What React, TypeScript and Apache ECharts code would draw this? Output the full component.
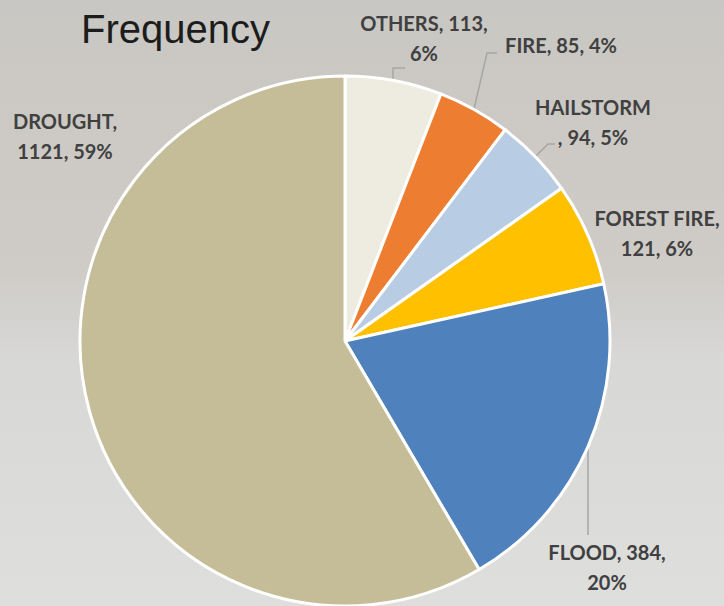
import React, { useEffect, useRef } from "react";
import * as echarts from "echarts";

const NAMES = ["OTHERS", "FIRE", "HAILSTORM", "FOREST FIRE", "FLOOD", "DROUGHT"];
const VALUES = [113, 85, 94, 121, 384, 1121];
const PERCENTS = [6, 4, 5, 6, 20, 59];
// where each label breaks into two lines
const BREAKS = ["value", "none", "name-", "name", "value", "name"];
const COLORS = ["#EEECE1", "#ED7D31", "#B8CCE4", "#FFC000", "#4F81BD", "#C4BD97"];
const SHOW_LINE = [true, true, true, false, true, false];
const LABEL_POS: [number, number][] = [
  [424, 38],
  [561, 45],
  [593, 122],
  [657, 233],
  [607, 567],
  [65, 136],
];
const LINE_POINTS: ([number, number][] | null)[] = [
  [[393, 80], [393, 68], [405, 68]],
  [[474, 109], [487, 53], [497, 53]],
  [[535, 157], [548, 144], [555, 144]],
  null,
  [[588, 448], [588, 492], [588, 535]],
  null,
];

function labelText(i: number): string {
  const n = NAMES[i];
  const v = VALUES[i];
  const p = PERCENTS[i] + "%";
  switch (BREAKS[i]) {
    case "value":
      return `${n}, ${v},\n${p}`;
    case "name-":
      return `${n}\n, ${v}, ${p}`;
    case "name":
      return `${n},\n${v}, ${p}`;
    default:
      return `${n}, ${v}, ${p}`;
  }
}

export default function App() {
  const ref = useRef<HTMLDivElement>(null);
  useEffect(() => {
    document.body.style.margin = "0";
    const chart = echarts.init(ref.current!, null, { renderer: "svg" });
    chart.setOption({
      animation: false,
      backgroundColor: {
        type: "linear",
        x: 0,
        y: 0,
        x2: 0,
        y2: 1,
        colorStops: [
          { offset: 0, color: "#c9c7c3" },
          { offset: 0.25, color: "#cdcac5" },
          { offset: 0.45, color: "#cfccc8" },
          { offset: 0.6, color: "#d8d8d7" },
          { offset: 1, color: "#dededd" },
        ],
      },
      title: {
        text: "Frequency",
        left: 76,
        top: 4,
        textStyle: {
          fontFamily: "Liberation Sans",
          fontSize: 40,
          fontWeight: "normal",
          color: "#1c1c1c",
        },
      },
      series: [
        {
          type: "pie",
          center: [345, 341],
          radius: 265,
          startAngle: 90,
          clockwise: true,
          avoidLabelOverlap: false,
          itemStyle: { borderColor: "#ffffff", borderWidth: 3 },
          label: {
            show: true,
            formatter: (p: any) => labelText(p.dataIndex),
            fontFamily: "Lato",
            fontWeight: "bold",
            fontSize: 20,
            lineHeight: 30,
            color: "#404040",
            align: "center",
          },
          labelLine: {
            show: true,
            lineStyle: { color: "#a6a6a6", width: 1.5 },
          },
          labelLayout: (params: any) => {
            const i = params.dataIndex;
            const p = LABEL_POS[i];
            const out: any = { x: p[0], y: p[1], align: "center", verticalAlign: "middle" };
            if (LINE_POINTS[i]) out.labelLinePoints = LINE_POINTS[i];
            return out;
          },
          data: NAMES.map((n, i) => ({
            name: n,
            value: VALUES[i],
            itemStyle: { color: COLORS[i] },
            labelLine: { show: SHOW_LINE[i] },
          })),
        },
      ],
    });
    return () => chart.dispose();
  }, []);
  return <div ref={ref} style={{ width: 724, height: 606 }} />;
}
